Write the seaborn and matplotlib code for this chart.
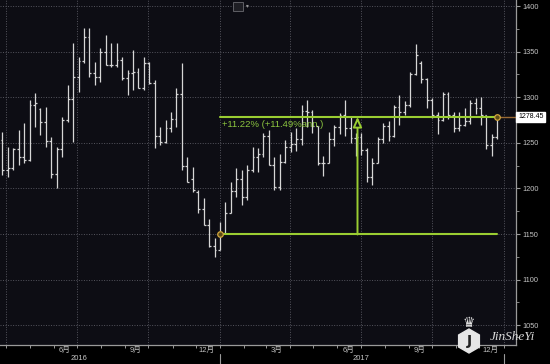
import matplotlib
matplotlib.use("Agg")
import matplotlib.pyplot as plt
import matplotlib.dates as mdates
import matplotlib.transforms as mtransforms
import matplotlib.patches as mpatches
import numpy as np
import pandas as pd
import seaborn as sns

# ---------------- data (weekly gold OHLC) ----------------
first_week = "2016-03-27"
opens = [1253, 1220, 1222, 1243, 1234, 1231, 1292, 1287, 1273, 1252,
         1216, 1243, 1275, 1298, 1322, 1340, 1366, 1327, 1322, 1350,
         1335, 1335, 1341, 1321, 1327, 1328, 1310, 1337, 1316, 1257,
         1251, 1266, 1276, 1304, 1225, 1210, 1196, 1177, 1160, 1137,
         1133, 1151, 1173, 1197, 1210, 1191, 1220, 1234, 1238, 1257,
         1226, 1202, 1229, 1245, 1249, 1254, 1285, 1284, 1268, 1228,
         1228, 1254, 1267, 1280, 1266, 1255, 1256, 1242, 1212, 1228,
         1254, 1268, 1258, 1289, 1284, 1291, 1325, 1338, 1320, 1297,
         1280, 1275, 1304, 1280, 1266, 1269, 1274, 1294, 1288, 1280,
         1248, 1256]
highs = [1262, 1245, 1244, 1264, 1272, 1297, 1305, 1288, 1289, 1256,
         1245, 1278, 1313, 1359, 1344, 1376, 1376, 1339, 1354, 1368,
         1359, 1359, 1344, 1330, 1352, 1332, 1344, 1339, 1319, 1267,
         1275, 1284, 1310, 1337, 1234, 1223, 1198, 1189, 1167, 1146,
         1163, 1185, 1207, 1222, 1220, 1226, 1245, 1244, 1261, 1264,
         1234, 1238, 1253, 1262, 1266, 1291, 1297, 1286, 1268, 1236,
         1262, 1270, 1283, 1297, 1278, 1261, 1261, 1244, 1233, 1256,
         1272, 1274, 1292, 1302, 1296, 1328, 1358, 1340, 1321, 1299,
         1284, 1306, 1306, 1284, 1284, 1288, 1297, 1299, 1300, 1280,
         1260, 1279]
lows = [1215, 1212, 1220, 1226, 1228, 1230, 1267, 1259, 1245, 1211,
        1201, 1234, 1273, 1251, 1306, 1337, 1322, 1313, 1317, 1335,
        1333, 1333, 1319, 1302, 1308, 1310, 1308, 1315, 1244, 1248,
        1250, 1262, 1267, 1220, 1207, 1196, 1173, 1160, 1136, 1125,
        1132, 1151, 1173, 1191, 1182, 1187, 1218, 1218, 1234, 1226,
        1198, 1198, 1228, 1240, 1241, 1248, 1267, 1261, 1226, 1214,
        1228, 1247, 1260, 1258, 1250, 1236, 1237, 1207, 1204, 1228,
        1250, 1252, 1256, 1270, 1280, 1289, 1324, 1316, 1288, 1277,
        1260, 1274, 1276, 1262, 1263, 1268, 1271, 1282, 1270, 1243,
        1236, 1254]
closes = [1220, 1222, 1243, 1234, 1231, 1292, 1294, 1273, 1252, 1216,
          1243, 1275, 1298, 1322, 1340, 1366, 1327, 1322, 1350, 1335,
          1335, 1341, 1321, 1327, 1328, 1310, 1337, 1316, 1257, 1251,
          1266, 1276, 1304, 1225, 1207, 1198, 1177, 1160, 1137, 1133,
          1149.5, 1173, 1197, 1210, 1191, 1220, 1234, 1238, 1257, 1226,
          1202, 1229, 1245, 1249, 1254, 1285, 1284, 1268, 1228, 1228,
          1254, 1267, 1280, 1266, 1255, 1256, 1242, 1212, 1228, 1254,
          1268, 1258, 1289, 1284, 1291, 1325, 1346, 1320, 1297, 1280,
          1275, 1304, 1280, 1266, 1269, 1274, 1294, 1288, 1280, 1248,
          1256, 1278.45]

y_ticks = [1050, 1100, 1150, 1200, 1250, 1300, 1350, 1400]
month_tick_dates = ["2016-06-15", "2016-09-15", "2016-12-15", "2017-03-15",
                    "2017-06-15", "2017-09-15", "2017-12-15"]
month_tick_labels = ["6月", "9月", "12月", "3月", "6月", "9月", "12月"]
year_labels = ["2016", "2017"]
year_label_dates = ["2016-07-03", "2017-07-01"]
quarter_lines = ["2016-04-01", "2016-07-01", "2016-10-01", "2017-01-01",
                 "2017-04-01", "2017-07-01", "2017-10-01", "2018-01-01"]
start_idx = 40           # start of the measurement
end_idx = 91             # end of the measurement
arrow_date = "2017-06-27"
measure_text = "+11.22% (+11.49%ann.)"
last_label = "1278.45"

# ---------------- style ----------------
sns.set_theme(style="dark")
plt.rcParams["font.family"] = ["Liberation Sans", "Noto Sans CJK SC", "DejaVu Sans"]

BG = "#0d0d14"
GREEN = "#9acd32"
TXTGREEN = "#8cc63f"
GRID = "#55555e"
BAR = "#d6d6d6"
AXC = "#9a9a9a"

fig = plt.figure(figsize=(5.5, 3.64), dpi=100, facecolor="black")
ax = fig.add_axes([0, 1 - 345 / 364, 516 / 550, 345 / 364])
ax.set_facecolor(BG)

dates = pd.date_range(first_week, periods=len(closes), freq="7D")
x = mdates.date2num(dates)
o = np.array(opens, float)
h = np.array(highs, float)
l = np.array(lows, float)
c = np.array(closes, float)

# limits
jan1 = mdates.date2num(pd.Timestamp("2017-01-01"))
ax.set_xlim(jan1 - 283.1, jan1 + 381.0)
ax.set_ylim(1028.3, 1406.6)

# grid
ax.set_yticks(y_ticks)
ax.yaxis.grid(True, which="major", color=GRID, ls=(0, (1, 1.6)), lw=0.7)
ax.xaxis.grid(False)
for d in quarter_lines:
    ax.axvline(mdates.date2num(pd.Timestamp(d)), color=GRID, ls=(0, (1, 1.6)), lw=0.7, zorder=0.5)

# OHLC bars
tick = 2.4
ax.vlines(x, l, h, color=BAR, lw=0.9, zorder=3)
ax.hlines(o, x - tick, x, color=BAR, lw=0.9, zorder=3)
ax.hlines(c, x, x + tick, color=BAR, lw=0.9, zorder=3)

# measurement lines (seaborn)
x0, x1 = x[start_idx], x[end_idx]
v0, v1 = c[start_idx], c[end_idx]
meas = pd.DataFrame({"x": [x0, x1, x0, x1], "y": [v0, v0, v1, v1], "g": ["lo", "lo", "hi", "hi"]})
sns.lineplot(data=meas, x="x", y="y", units="g", estimator=None, color=GREEN, lw=1.5,
             ax=ax, zorder=4, legend=False)
xa = mdates.date2num(pd.Timestamp(arrow_date))
ax.annotate("", xy=(xa, v1), xytext=(xa, v0),
            arrowprops=dict(arrowstyle="-|>,head_width=0.22,head_length=0.5",
                            color=GREEN, fc=BG, lw=1.4, shrinkA=0, shrinkB=0), zorder=5)
ax.text(x0 + 2.6, 1270.5, measure_text, color=TXTGREEN, fontsize=6.8, va="center", ha="left", zorder=6)

# last price line and markers
ax.plot([x1, ax.get_xlim()[1]], [v1, v1], color="#9a6a35", lw=1.0, zorder=4)
ax.plot([x0, x1], [v0, v1], ls="none", marker="o", ms=4, mfc="#5a4a18", mec="#d2a63c", mew=0.9, zorder=7)

blend = mtransforms.blended_transform_factory(ax.transAxes, ax.transData)
ax.text(1.004, v1, last_label, transform=blend, fontsize=5, color="black", va="center", ha="left",
        bbox=dict(boxstyle="square,pad=0.25", fc="white", ec="white"), zorder=8, clip_on=False)

# axes styling
for s in ["left", "top"]:
    ax.spines[s].set_visible(False)
for s in ["right", "bottom"]:
    ax.spines[s].set_visible(True)
    ax.spines[s].set_color(AXC)
    ax.spines[s].set_linewidth(0.9)
ax.set_xlabel("")
ax.set_ylabel("")

ax.yaxis.tick_right()
ax.set_yticks([1037.5, 1075, 1125, 1175, 1225, 1275, 1325, 1375], minor=True)
ax.tick_params(axis="y", which="major", right=True, left=False, length=3, width=0.8, color=AXC,
               labelcolor="#c4c4c4", labelsize=5.3, pad=1.5)
ax.tick_params(axis="y", which="minor", right=True, left=False, length=1.8, width=0.6, color=AXC)

ax.set_xticks(mdates.date2num(pd.to_datetime(month_tick_dates)))
ax.set_xticklabels(month_tick_labels)
month_starts = mdates.date2num(pd.date_range("2016-04-01", "2018-01-01", freq="MS"))
ax.set_xticks(month_starts, minor=True)
ax.tick_params(axis="x", which="major", bottom=True, length=0, labelcolor="#c4c4c4", labelsize=5.5, pad=1.2)
ax.tick_params(axis="x", which="minor", bottom=True, length=2.2, width=0.7, color=AXC)

bx = mtransforms.blended_transform_factory(ax.transData, ax.transAxes)
for lab, d in zip(year_labels, year_label_dates):
    ax.text(mdates.date2num(pd.Timestamp(d)), -0.040, lab, transform=bx, ha="center", va="center",
            fontsize=5.5, color="#c4c4c4", clip_on=False)
for d in ["2017-01-01", "2018-01-01"]:
    xd = mdates.date2num(pd.Timestamp(d))
    ax.plot([xd, xd], [-0.026, -0.06], transform=bx, color=AXC, lw=0.8, clip_on=False)

# small toolbar icon at top
fig.add_artist(mpatches.Rectangle((233 / 550, 1 - 11 / 364), 10 / 550, 9 / 364, transform=fig.transFigure,
                                  fc="#1e1e24", ec="#6a6a70", lw=0.6))
fig.text(246 / 550, 1 - 6 / 364, "▾", color="#9a9a9a", fontsize=4, va="center", family="DejaVu Sans")

# watermark
fig.add_artist(mpatches.RegularPolygon((4.69, 0.23), numVertices=6, radius=0.12,
                                       orientation=0, transform=fig.dpi_scale_trans,
                                       fc="#e6e6e6", ec="#e6e6e6"))
fig.text(469 / 550, 23 / 364, "J", color="#222222", fontsize=10, fontweight="bold", ha="center",
         va="center", family="DejaVu Sans")
fig.text(469 / 550, 41 / 364, "♛", color="#e6e6e6", fontsize=10, ha="center", va="center", family="DejaVu Sans")
fig.text(512 / 550, 27 / 364, "JinSheYi", color="#d8d8d8", fontsize=9.5, fontstyle="italic",
         ha="center", va="center", family="Liberation Serif")

fig.savefig("out.png", dpi=100, facecolor="black")
